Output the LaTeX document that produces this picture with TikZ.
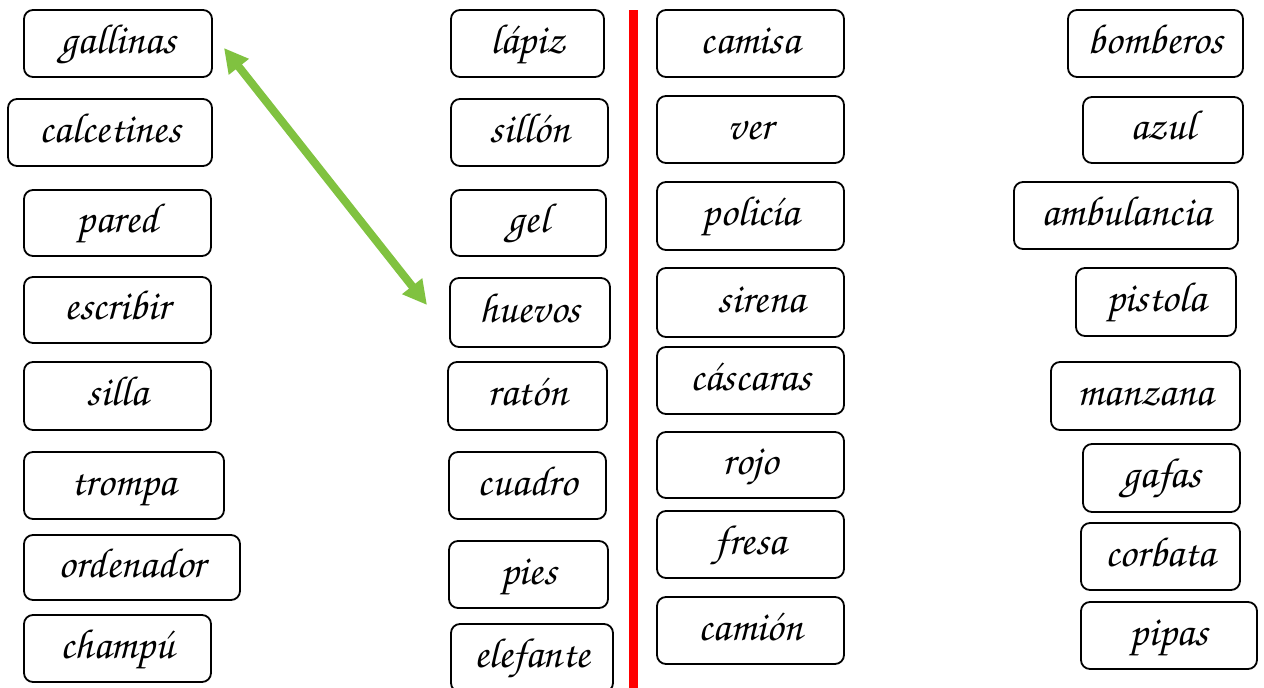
\documentclass[tikz,border=0pt]{standalone}
\usepackage[T1,TU]{fontenc}
\usetikzlibrary{arrows.meta}
\definecolor{arrowgreen}{RGB}{128,194,64}
\newcommand{\cursivefont}{\fontencoding{T1}\fontfamily{pzc}\fontseries{mb}\fontshape{it}\fontsize{42}{46}\selectfont}
\tikzset{
    word/.style={rectangle, draw, rounded corners=9pt, line width=1.8pt, inner sep=0pt, align=center, font=\cursivefont, text height=19pt, text depth=0pt},
    match arrow/.style={arrowgreen, line width=8pt, {Triangle[length=24pt, width=24pt]}-{Triangle[length=24pt, width=24pt]}},
    divider/.style={red, line width=9pt}
}
\begin{document}
\begin{tikzpicture}[x=1pt, y=-1pt]
    \useasboundingbox[fill=white] (0,0) rectangle (1264,688);

    % first column
    \node[word, minimum width=188pt, minimum height=67pt] (gallinas) at (118,43.5) {gallinas};
    \node[word, minimum width=204pt, minimum height=67pt] (calcetines) at (110,132.5) {calcetines};
    \node[word, minimum width=187pt, minimum height=66pt] (pared) at (117.5,223) {pared};
    \node[word, minimum width=187pt, minimum height=66pt] (escribir) at (117.5,310) {escribir};
    \node[word, minimum width=187pt, minimum height=68pt] (silla) at (117.5,396) {silla};
    \node[word, minimum width=200pt, minimum height=67pt] (trompa) at (124,485.5) {trompa};
    \node[word, minimum width=216pt, minimum height=65pt] (ordenador) at (132,567.5) {ordenador};
    \node[word, minimum width=187pt, minimum height=67pt] (champu) at (117.5,648.5) {champú};

    % second column
    \node[word, minimum width=153pt, minimum height=67pt] (lapiz) at (527.5,43.5) {lápiz};
    \node[word, minimum width=157pt, minimum height=67pt] (sillon) at (529.5,132.5) {sillón};
    \node[word, minimum width=155pt, minimum height=66pt] (gel) at (528.5,223) {gel};
    \node[word, minimum width=160pt, minimum height=69pt] (huevos) at (530,312.5) {huevos};
    \node[word, minimum width=159pt, minimum height=68pt] (raton) at (527.5,396) {ratón};
    \node[word, minimum width=157pt, minimum height=67pt] (cuadro) at (527.5,485.5) {cuadro};
    \node[word, minimum width=159pt, minimum height=67pt] (pies) at (528.5,574.5) {pies};
    \node[word, minimum width=162pt, minimum height=68pt] (elefante) at (532,658) {elefante};

    % red divider
    \coordinate (divider top) at (633,10);
    \coordinate (divider bottom) at (633,688);
    \draw[divider] (divider top) -- (divider bottom);

    % third column
    \node[word, minimum width=187pt, minimum height=67pt] (camisa) at (750.5,43.5) {camisa};
    \node[word, minimum width=187pt, minimum height=67pt] (ver) at (750.5,129.5) {ver};
    \node[word, minimum width=187pt, minimum height=68pt] (policia) at (750.5,216) {policía};
    \node[word, minimum width=187pt, minimum height=69pt] (sirena) at (750.5,302.5) {\hspace*{22pt}sirena};
    \node[word, minimum width=187pt, minimum height=67pt] (cascaras) at (750.5,380.5) {cáscaras};
    \node[word, minimum width=187pt, minimum height=66pt] (rojo) at (750.5,465) {rojo};
    \node[word, minimum width=187pt, minimum height=67pt] (fresa) at (750.5,544.5) {fresa};
    \node[word, minimum width=187pt, minimum height=67pt] (camion) at (750.5,630.5) {camión};

    % fourth column
    \node[word, minimum width=175pt, minimum height=67pt] (bomberos) at (1155.5,43.5) {bomberos};
    \node[word, minimum width=160pt, minimum height=66pt] (azul) at (1163,130) {azul};
    \node[word, minimum width=224pt, minimum height=67pt] (ambulancia) at (1126,215.5) {ambulancia};
    \node[word, minimum width=160pt, minimum height=68pt] (pistola) at (1156,302) {pistola};
    \node[word, minimum width=189pt, minimum height=68pt] (manzana) at (1145.5,396) {manzana};
    \node[word, minimum width=157pt, minimum height=68pt] (gafas) at (1161.5,478) {gafas};
    \node[word, minimum width=159pt, minimum height=67pt] (corbata) at (1160.5,556.5) {corbata};
    \node[word, minimum width=176pt, minimum height=67pt] (pipas) at (1169,635.5) {pipas};

    % green matching arrow
    \coordinate (gallinas tip) at (224,48);
    \coordinate (huevos tip) at (427,305);
    \draw[match arrow] (gallinas tip) -- (huevos tip);
\end{tikzpicture}
\end{document}
